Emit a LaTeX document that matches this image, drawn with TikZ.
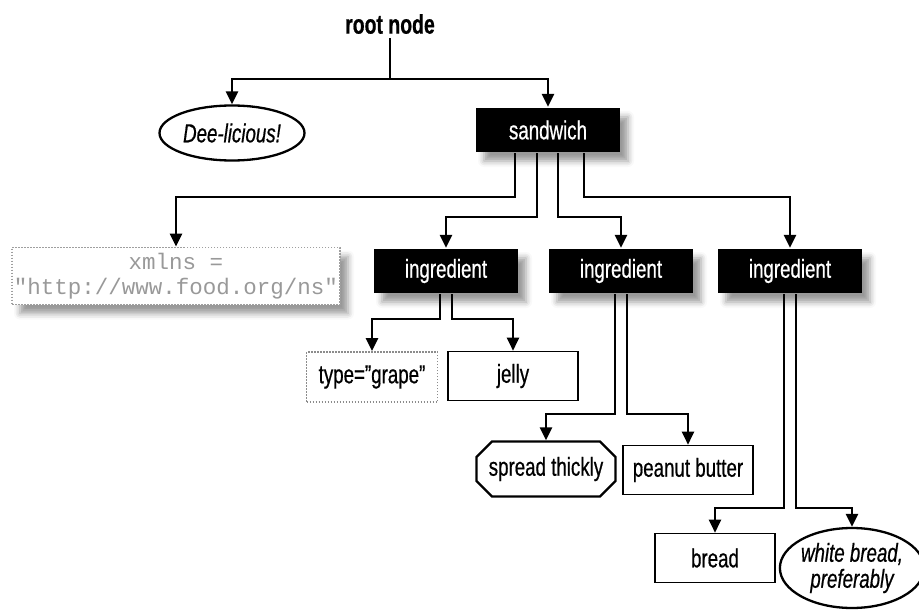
\documentclass[tikz,border=0pt]{standalone}
\usepackage{fontspec}
\setmainfont{Liberation Sans}[FakeStretch=0.72, FakeBold=0.6]
\newfontfamily\codefont{Liberation Mono}
\usetikzlibrary{shapes.geometric, shapes.misc, shadows.blur, arrows.meta}

\begin{document}
\begin{tikzpicture}[x=1pt, y=-1pt, line width=2.3pt,
    link/.style={-{Triangle[length=13pt,width=12pt]}},
    txt/.style={font=\fontsize{26}{26}\selectfont},
    softshadow/.style={blur shadow={shadow xshift=8pt, shadow yshift=-9pt, shadow blur radius=6pt, shadow opacity=40}},
    elem/.style={txt, fill=black, text=white, minimum width=144pt, minimum height=44pt, inner sep=0pt, softshadow},
    textbox/.style={txt, draw, line width=1.6pt, minimum width=130pt, minimum height=49pt, inner sep=0pt},
    attrbox/.style={draw=gray!75, dash pattern=on 1.5pt off 1.5pt, line width=1.8pt, fill=white, inner sep=0pt},
    comment/.style={ellipse, draw, font=\fontsize{26}{26}\selectfont\itshape, inner sep=0pt, align=center},
]
    \useasboundingbox (0,0) rectangle (919,610);

    % 1. 根节点与第一层
    \node[font=\fontsize{27}{27}\selectfont\bfseries] (root) at (390,24) {root node};
    \coordinate (rootfork) at (390,79);
    \node[comment, minimum width=145pt, minimum height=55pt] (dee) at (232,133) {Dee-licious!};
    \node[elem] (sandwich) at (548,130) {sandwich};

    % 2. sandwich 的子节点
    \node[attrbox, softshadow, minimum width=328pt, minimum height=57pt, align=center, text=gray!80,
          font=\codefont\fontsize{22.5}{25}\selectfont] (xmlns) at (176,276) {xmlns =\\"http://www.food.org/ns"};
    \node[elem] (ing1) at (446,271) {ingredient};
    \node[elem] (ing2) at (621,271) {ingredient};
    \node[elem] (ing3) at (790,271) {ingredient};

    % 3. ingredient 的子节点
    \node[attrbox, txt, draw=gray!90, minimum width=131pt, minimum height=50pt] (grape) at (372,377) {type=\symbol{34}grape\symbol{34}};
    \node[textbox] (jelly) at (513,376) {jelly};
    \node[chamfered rectangle, chamfered rectangle xsep=12pt, draw, txt, minimum width=139pt, minimum height=55pt, inner sep=0pt] (spread) at (546,469) {spread thickly};
    \node[textbox] (peanut) at (688,470) {peanut butter};
    \node[textbox, minimum width=120pt] (bread) at (715,558) {bread};
    \node[comment, minimum width=136pt, minimum height=80pt] (white) at (852,568) {white bread,\\preferably};

    % 4. 连线
    \draw (root.south) -- (rootfork);
    \draw[link] (rootfork) -| (dee.north);
    \draw[link] (rootfork) -| (sandwich.north);

    \draw[link] ([xshift=-33pt]sandwich.south) -- ++(0,44) -| (xmlns.north);
    \draw[link] ([xshift=-11pt]sandwich.south) -- ++(0,64) -| (ing1.north);
    \draw[link] ([xshift=10pt]sandwich.south) -- ++(0,64) -| (ing2.north);
    \draw[link] ([xshift=36pt]sandwich.south) -- ++(0,44) -| (ing3.north);

    \foreach \ing/\la/\rb/\drop in {ing1/grape/jelly/25, ing2/spread/peanut/120, ing3/bread/white/214}
    {
        \draw[link] ([xshift=-6pt]\ing.south) -- ++(0,\drop) -| (\la.north);
        \draw[link] ([xshift=6pt]\ing.south) -- ++(0,\drop) -| (\rb.north);
    }

\end{tikzpicture}
\end{document}
